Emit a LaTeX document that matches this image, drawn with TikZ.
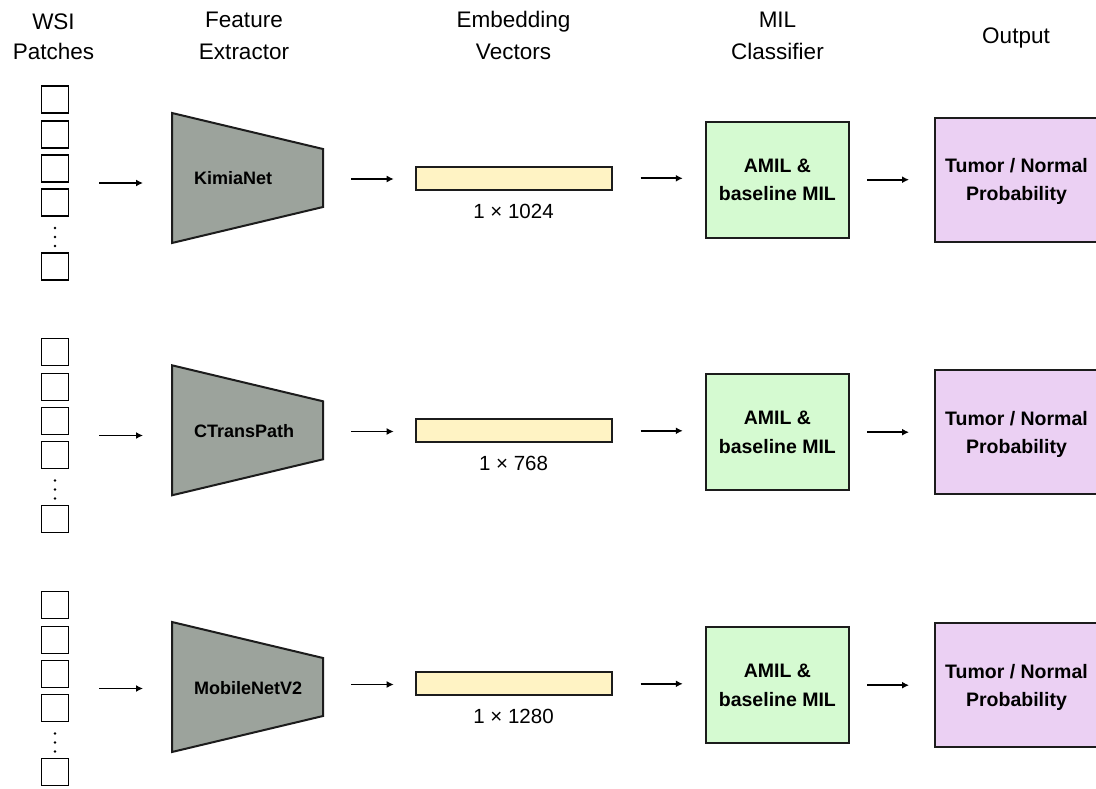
\documentclass[tikz,border=0pt]{standalone}
\usepackage{fontspec}
\setmainfont{Liberation Sans}
\usetikzlibrary{arrows.meta}

\definecolor{edge}{HTML}{1C1C1C}
\definecolor{extractfill}{HTML}{9CA39C}
\definecolor{embfill}{HTML}{FFF3C4}
\definecolor{milfill}{HTML}{D5FAD1}
\definecolor{outfill}{HTML}{EBD0F3}

\tikzset{
  head/.style={font=\fontsize{22.5}{27}\selectfont, anchor=base, inner sep=0pt},
  patch/.style={draw=black, line width=1.9pt, minimum size=27pt, inner sep=0pt},
  pdot/.style={fill=black, draw=none, circle, inner sep=0pt, minimum size=2.8pt},
  extractor/.style={draw=edge, line width=2pt, fill=extractfill, line join=miter},
  extlabel/.style={font=\fontsize{18}{22}\selectfont\bfseries, anchor=base west, inner sep=0pt},
  embbox/.style={draw=edge, line width=2pt, fill=embfill, minimum width=196pt, minimum height=23.3pt, inner sep=0pt},
  dimlabel/.style={font=\fontsize{20.5}{24}\selectfont, anchor=base, inner sep=0pt},
  milbox/.style={draw=edge, line width=2pt, fill=milfill, minimum width=143.3pt, minimum height=116pt,
    align=center, inner sep=0pt, font=\fontsize{19.5}{28.3}\selectfont\bfseries},
  outbox/.style={draw=edge, line width=2pt, fill=outfill, minimum width=163pt, minimum height=123.7pt,
    align=center, inner sep=0pt, text depth=0pt, font=\fontsize{19.5}{28.3}\selectfont\bfseries},
  arr/.style={draw=black, line width=1.8pt, -{Latex[length=7pt,width=7pt]}},
}

\begin{document}
\begin{tikzpicture}[x=1pt, y=-1pt]
  \clip (0,0) rectangle (1096,789);
  \fill[white] (0,0) rectangle (1096,789);

  % column headings
  \node[head] (hwsi)  at (53.5,30)   {WSI};
  \node[head] (hpat)  at (53.5,59.5) {Patches};
  \node[head] (hfea)  at (244,28)    {Feature};
  \node[head] (hext)  at (244,59.5)  {Extractor};
  \node[head] (hemb)  at (513.5,28)  {Embedding};
  \node[head] (hvec)  at (513.5,59.5){Vectors};
  \node[head] (hmil)  at (777.5,28)  {MIL};
  \node[head] (hcls)  at (777.5,59.5){Classifier};
  \node[head] (hout)  at (1016,44)   {Output};

  % one pipeline per backbone
  \foreach \dy/\tdy/\backbone/\dimtext [count=\i] in
      {0/0/KimiaNet/1024, 252.5/252.3/CTransPath/768, 505.5/509/MobileNetV2/1280} {

    % bag of patches
    \foreach \py [count=\j] in {99.5,134.5,168.5,202.5,266.5}
      \node[patch] (sq\i-\j) at (55,{\py+\dy}) {};
    \foreach \py [count=\j] in {228,237,246}
      \node[pdot] (dot\i-\j) at (55,{\py+\dy}) {};
    \coordinate (col\i) at (68.5,{183+\dy});

    % feature extractor (trapezoid)
    \draw[extractor] (172,{113+\tdy}) -- (323,{149+\tdy}) -- (323,{207+\tdy})
                     -- (172,{243+\tdy}) -- cycle;
    \coordinate (tin\i)  at (172,{183+\dy});
    \coordinate (tout\i) at (323,{179+\dy});
    \node[extlabel] (fx\i) at (194,{185+\tdy}) {\backbone};

    % embedding vector
    \node[embbox] (emb\i) at (513.7,{178.3+\dy}) {};
    \node[dimlabel] (dim\i) at (513.5,{218.3+\dy}) {1 × \dimtext};

    % MIL classifier and output
    \node[milbox] (mil\i) at (777.4,{179.7+\dy}) {AMIL \&\\baseline MIL};
    \node[outbox] (out\i) at (1016.5,{179.7+\dy}) {Tumor / Normal\\Probability};

    % connectors
    \draw[arr, shorten <=30.5pt, shorten >=29pt] (col\i) -- (tin\i);
    \draw[arr, shorten <=28pt, shorten >=21pt] (tout\i) -- (tout\i -| emb\i.west);
    \draw[arr, shorten <=28pt, shorten >=22pt] (emb\i.east) -- (emb\i.east -| mil\i.west);
    \draw[arr, shorten <=17pt, shorten >=25pt] (mil\i.east) -- (mil\i.east -| out\i.west);
  }
\end{tikzpicture}
\end{document}
